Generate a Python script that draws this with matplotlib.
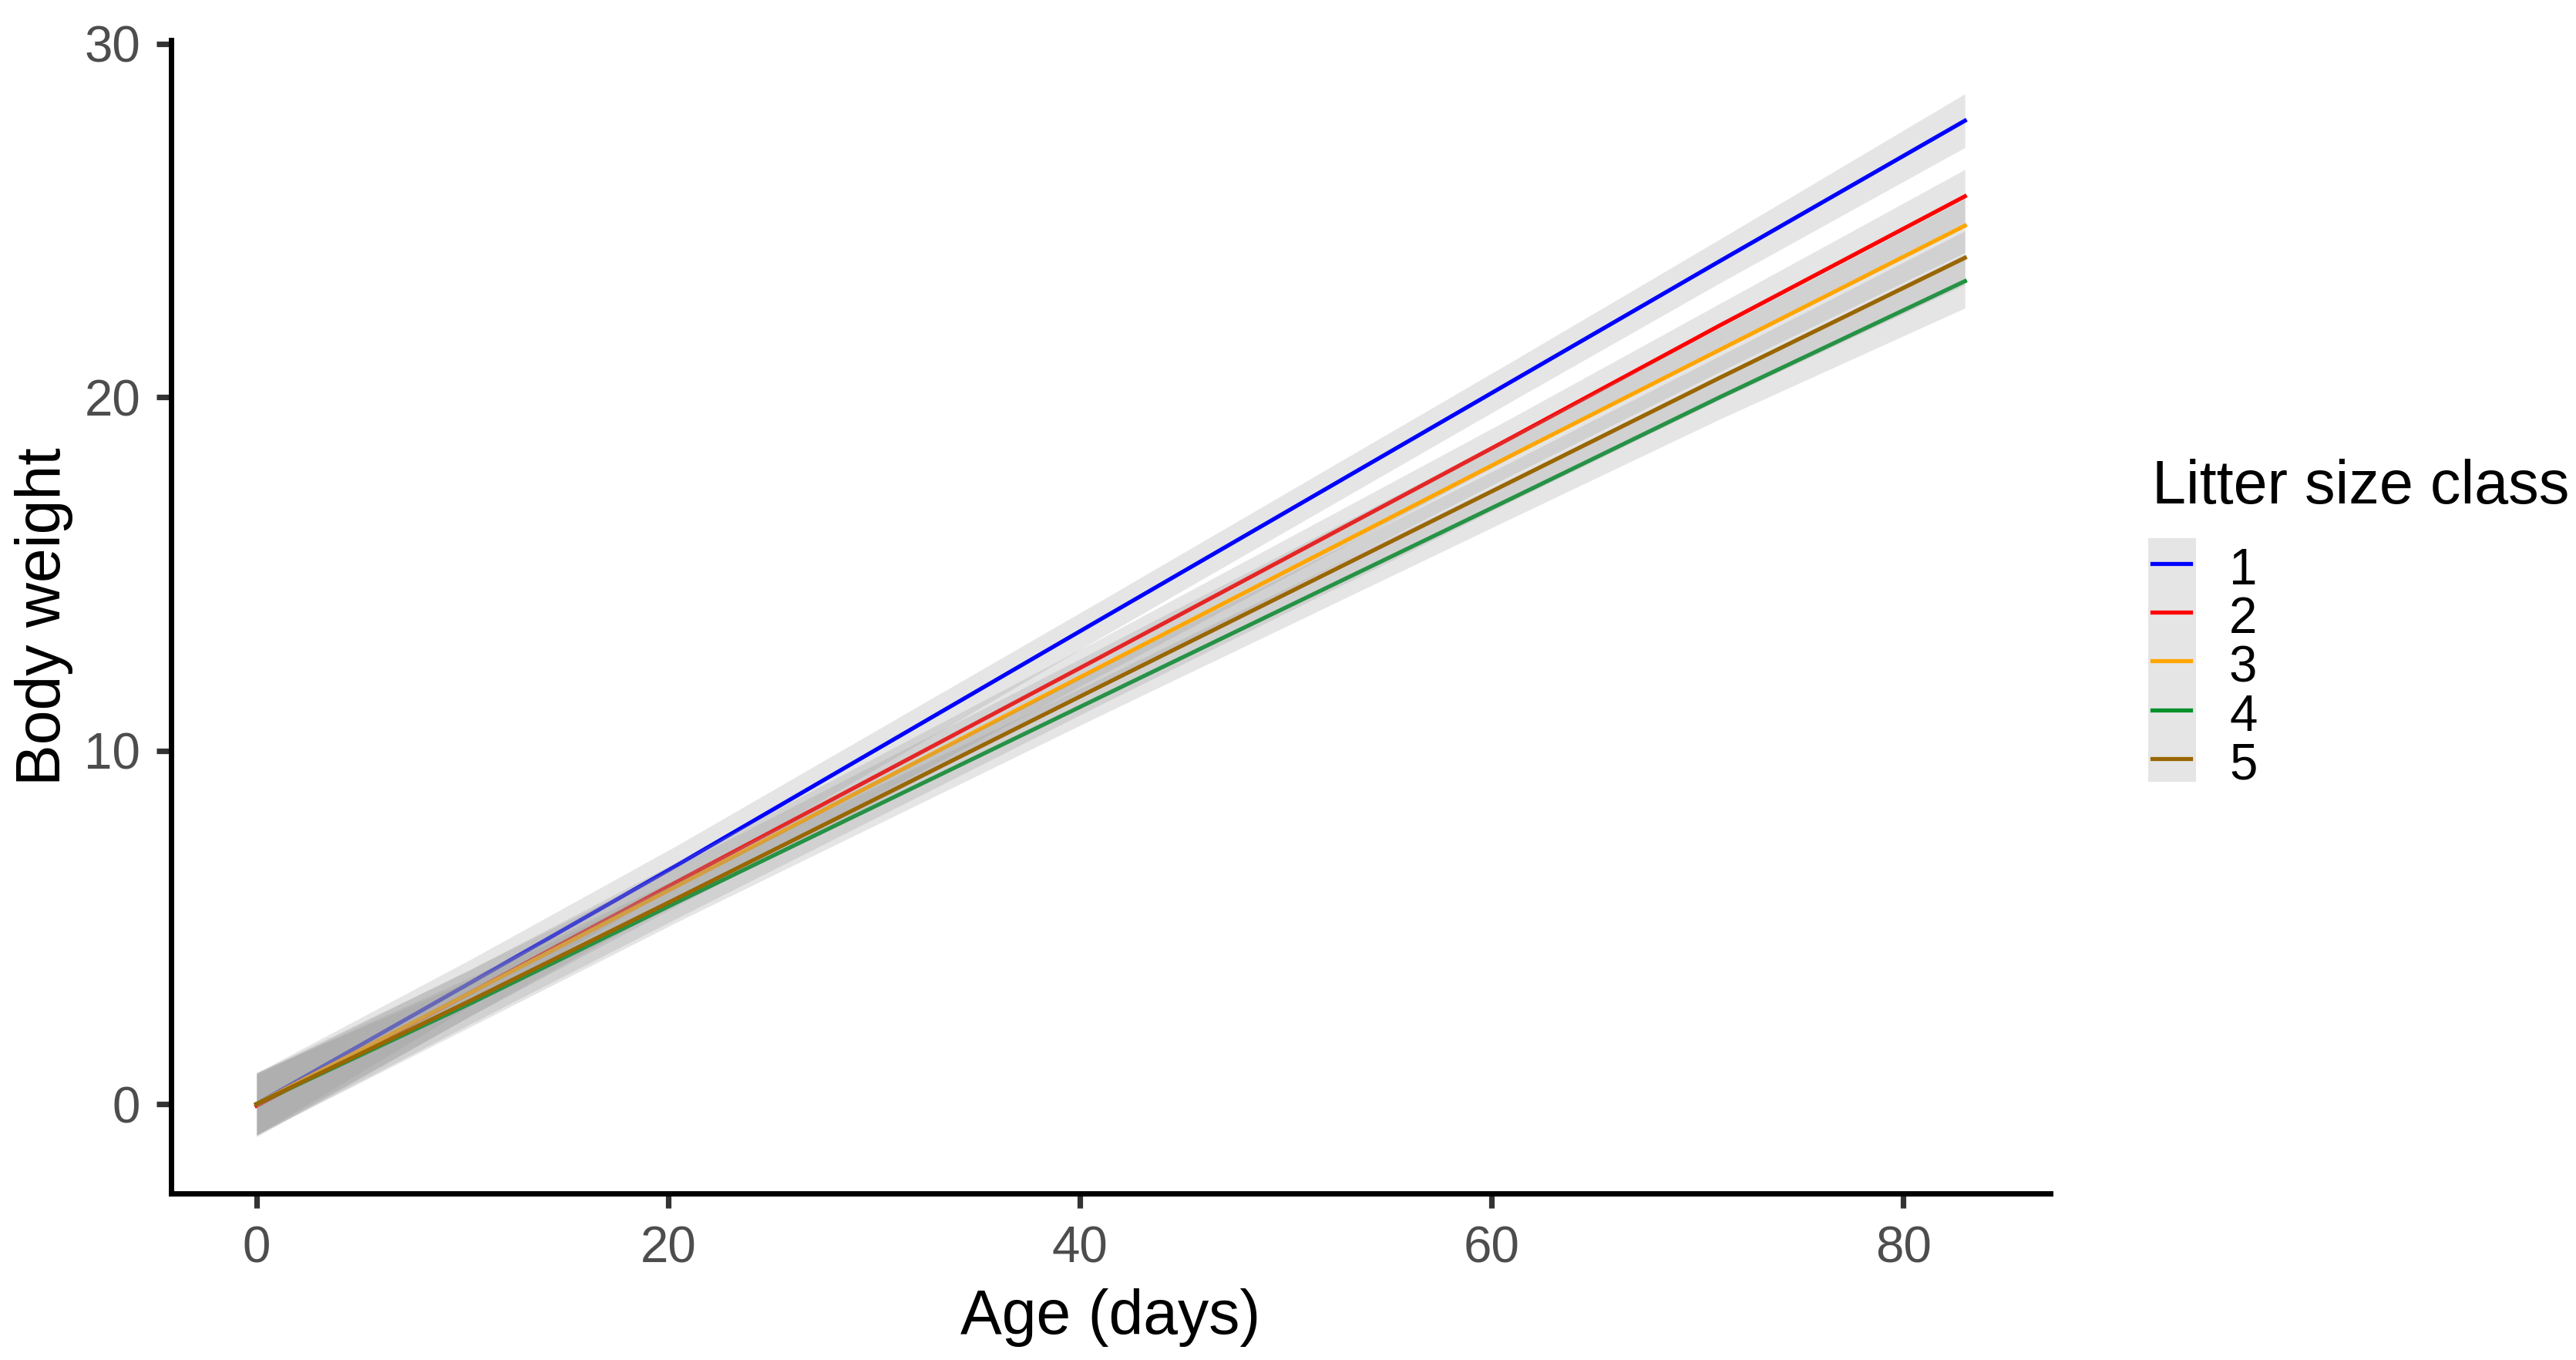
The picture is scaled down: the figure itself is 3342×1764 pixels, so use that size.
import matplotlib
matplotlib.use("Agg")
import matplotlib.pyplot as plt
from matplotlib.lines import Line2D
from matplotlib.patches import Rectangle
import numpy as np

plt.rcParams['font.family'] = ['Liberation Sans', 'DejaVu Sans']

# --- data (age in days, fitted body weight)
age = [0, 10.3, 20.5, 40.7, 61.0, 71.1, 83.0]
classes = ['1', '2', '3', '4', '5']
colors = ['#0000FF', '#FF0000', '#FFA500', '#00902A', '#996600']
w1 = [0.00, 3.40, 6.78, 13.61, 20.45, 23.85, 27.82]
w2 = [-0.05, 3.12, 6.31, 12.55, 18.86, 22.03, 25.68]
w3 = [0.00, 3.12, 6.19, 12.28, 18.36, 21.34, 24.85]
w4 = [0.00, 2.82, 5.73, 11.43, 17.14, 20.00, 23.28]
w5 = [0.00, 2.90, 5.84, 11.73, 17.62, 20.55, 23.94]
weights = [w1, w2, w3, w4, w5]
ci_half = [0.88, 0.66, 0.56, 0.52, 0.56, 0.62, 0.76]

W, H = 3342, 1764
DPI = 200
fig = plt.figure(figsize=(W / DPI, H / DPI), dpi=DPI)

def fx(px):
    return px / W

def fy(py):
    return 1 - py / H

ax = fig.add_axes([fx(222), fy(1548), fx(2660) - fx(222), fy(52) - fy(1548)])

a = np.array(age)
hw = np.array(ci_half)
z = 2
for w, c in zip(weights, colors):
    w = np.array(w)
    ax.fill_between(a, w - hw, w + hw, color='#999999', alpha=0.25,
                    linewidth=0, zorder=z)
    ax.plot(a, w, color=c, linewidth=1.9, zorder=z + 1)
    z += 2

ax.set_xlim(-4.15, 87.15)
ax.set_ylim(-2.53, 30.1)
ax.set_xticks([0, 20, 40, 60, 80])
ax.set_yticks([0, 10, 20, 30])

for s in ['top', 'right']:
    ax.spines[s].set_visible(False)
for s in ['left', 'bottom']:
    ax.spines[s].set_linewidth(2.5)
    ax.spines[s].set_color('black')

ax.tick_params(axis='both', length=6.8, width=2.6, color='#333333',
               labelsize=23.6, labelcolor='#4D4D4D')
ax.tick_params(axis='y', pad=7.5)
ax.tick_params(axis='x', pad=8)

# axis titles
fig.text(fx(57), fy(800), 'Body weight', rotation=90, fontsize=29,
         ha='center', va='center')
fig.text(fx(1441), fy(1709), 'Age (days)', fontsize=29,
         ha='center', va='center')

# --- legend, drawn like the ggplot one
fig.text(fx(2792), fy(653), 'Litter size class', fontsize=28.5,
         ha='left', va='baseline')
for i, (lab, c) in enumerate(zip(classes, colors)):
    top = 698 + 63.2 * i
    fig.add_artist(Rectangle((fx(2787), fy(top + 63.2)), fx(62), 63.2 / H,
                             transform=fig.transFigure, facecolor='#999999',
                             alpha=0.25, edgecolor='none'))
    yk = fy(731 + 63.2 * i)
    fig.add_artist(Line2D([fx(2792), fx(2842)], [yk, yk], color=c,
                          linewidth=1.9, transform=fig.transFigure))
    fig.text(fx(2892), fy(758 + 63.2 * i), lab, fontsize=23.6,
             ha='left', va='baseline')

plt.savefig('out.png', dpi=DPI)
